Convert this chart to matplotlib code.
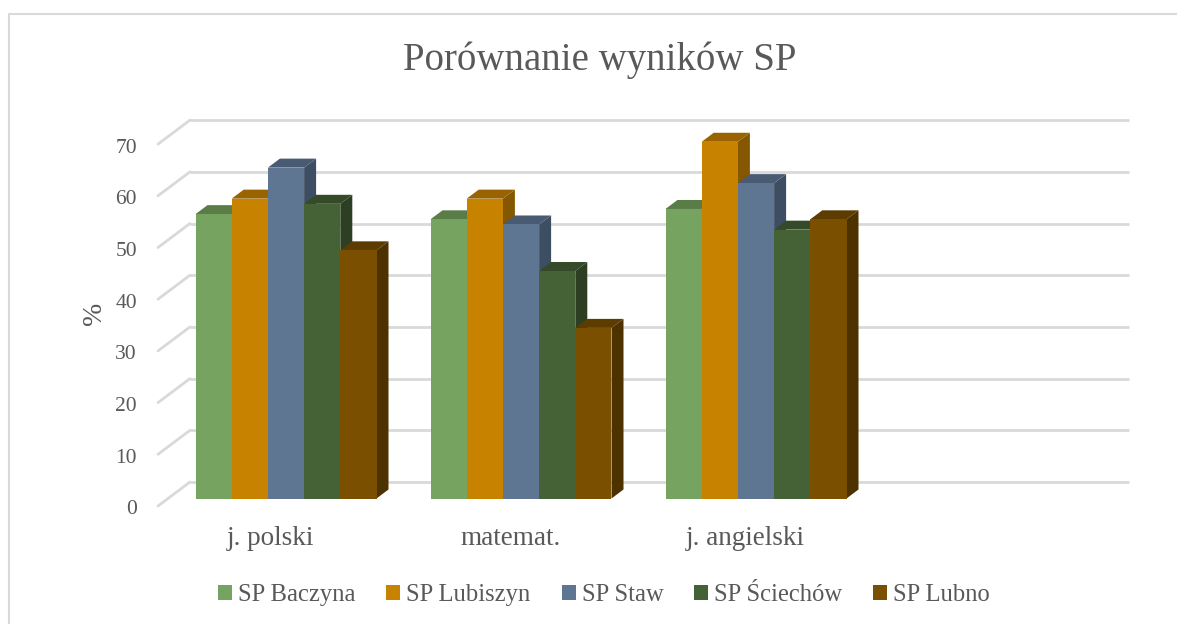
import matplotlib
matplotlib.use('Agg')
import matplotlib.pyplot as plt
from matplotlib.lines import Line2D

plt.rcParams['font.family'] = ['Liberation Serif', 'DejaVu Serif']

subjects = ['j. polski', 'matemat.', 'j. angielski']
schools = ['SP Baczyna', 'SP Lubiszyn', 'SP Staw', 'SP Ściechów', 'SP Lubno']
baczyna = [55, 54, 56]
lubiszyn = [58, 58, 69]
staw = [64, 53, 61]
sciechow = [57, 44, 52]
lubno = [48, 33, 54]
y_ticks = [0, 10, 20, 30, 40, 50, 60, 70]

front_colors = ['#76A460', '#C78300', '#5F7692', '#456236', '#7A5000']
top_colors = ['#5A7D48', '#996400', '#485B73', '#344A29', '#5C3C00']
side_colors = ['#4F6F40', '#855700', '#3E4E62', '#2C3F22', '#4D3200']
text_color = '#595959'
grid_color = '#D9D9D9'

W, H = 1177, 624
PX_X = 235.0    # pixels per category
PX_Y = 5.17     # pixels per percent
X0, Y0 = 286.0, 498.5   # pixel of first category centre, value 0


def dx(px):
    return px / PX_X


def dy(px):
    return px / PX_Y


fig = plt.figure(figsize=(W / 100, H / 100), dpi=100)
ax = fig.add_axes([0, 0, 1, 1])
ax.set_xlim(-X0 / PX_X, (W - X0) / PX_X)
ax.set_ylim(-(H - Y0) / PX_Y, Y0 / PX_Y)
ax.axis('off')

# chart frame, open at the bottom and right
fig.add_artist(Line2D([8.5 / W, 8.5 / W, 1], [0, 1 - 14 / H, 1 - 14 / H],
                      color=grid_color, lw=1.5))

# back wall gridlines and the diagonals on the left wall
for v in y_ticks:
    ax.plot([-X0 / PX_X + dx(190), -X0 / PX_X + dx(1129)], [v + dy(16.5)] * 2,
            color=grid_color, lw=2, solid_capstyle='butt', zorder=1)
    ax.plot([-X0 / PX_X + dx(158), -X0 / PX_X + dx(190)],
            [v - dy(7.5), v + dy(16.5)],
            color=grid_color, lw=2, solid_capstyle='round', zorder=1)
    ax.text(-X0 / PX_X + dx(137), v - dy(11.5), str(v), ha='right', va='center',
            fontsize=15.5, color=text_color)

# bars, left to right so each one covers the side of the previous one
series = [baczyna, lubiszyn, staw, sciechow, lubno]
bar_w = 36.2 / PX_X
depth_x, depth_y = dx(12), dy(9)
z = 2
for s, vals in enumerate(series):
    for c, v in enumerate(vals):
        x0 = c + (s - 2.5) * bar_w
        x1 = x0 + bar_w
        ax.fill([x1, x1 + depth_x, x1 + depth_x, x1],
                [0, depth_y, v + depth_y, v],
                color=side_colors[s], lw=0, zorder=z)
        ax.fill([x0, x0 + depth_x, x1 + depth_x, x1],
                [v, v + depth_y, v + depth_y, v],
                color=top_colors[s], lw=0, zorder=z)
        ax.bar(x0, v, bar_w, align='edge', color=front_colors[s], lw=0,
               zorder=z + 0.5, label=schools[s] if c == 0 else None)
        z += 1

label_shift = [-16, -10, -11]
for c, name in enumerate(subjects):
    ax.text(c + dx(label_shift[c]), -dy(40), name, ha='center', va='center',
            fontsize=19.5, color=text_color)

ax.text(-X0 / PX_X + dx(95), dy(Y0 - 313), '%', rotation=90, ha='center',
        va='center', fontsize=20, color=text_color)

fig.text(600 / W, 1 - 60 / H, 'Porównanie wyników SP', ha='center', va='center',
         fontsize=28, color=text_color)

ax.legend(loc='center', bbox_to_anchor=(604 / W, 1 - 595 / H),
          bbox_transform=fig.transFigure, ncol=5, frameon=False,
          fontsize=17.7, labelcolor=text_color, handlelength=0.57,
          handleheight=0.57, handletextpad=0.24, columnspacing=1.26,
          borderpad=0, borderaxespad=0)

fig.savefig('out.png', dpi=100)
